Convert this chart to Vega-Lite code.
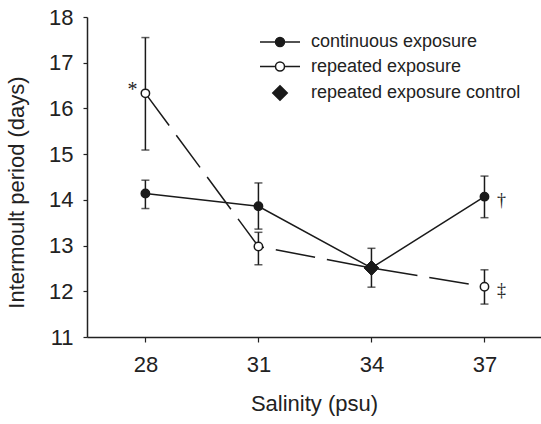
{
  "$schema": "https://vega.github.io/schema/vega-lite/v6.json",
  "width": 454,
  "height": 320,
  "autosize": "none",
  "padding": {"left": 87, "top": 17, "right": 0, "bottom": 87},
  "background": "white",
  "config": {
    "view": {"stroke": null},
    "font": "Liberation Sans",
    "axis": {"grid": false, "domainColor": "#222", "tickColor": "#222", "labelColor": "#222", "titleColor": "#222", "labelFont": "Liberation Sans", "titleFont": "Liberation Sans", "labelFontSize": 22, "titleFontSize": 22, "titleFontWeight": "normal", "domainWidth": 1.5, "tickWidth": 1.2}
  },
  "datasets": {
    "lines": [
      {"series": "continuous exposure", "salinity": 28, "mean": 14.14},
      {"series": "continuous exposure", "salinity": 31, "mean": 13.86},
      {"series": "continuous exposure", "salinity": 34, "mean": 12.51},
      {"series": "continuous exposure", "salinity": 37, "mean": 14.07},
      {"series": "repeated exposure", "salinity": 28, "mean": 16.33},
      {"series": "repeated exposure", "salinity": 31, "mean": 12.98},
      {"series": "repeated exposure", "salinity": 34, "mean": 12.51},
      {"series": "repeated exposure", "salinity": 37, "mean": 12.1}
    ],
    "points": [
      {"series": "continuous exposure", "salinity": 28, "mean": 14.14, "lo": 13.81, "hi": 14.43},
      {"series": "continuous exposure", "salinity": 31, "mean": 13.86, "lo": 13.36, "hi": 14.37},
      {"series": "continuous exposure", "salinity": 37, "mean": 14.07, "lo": 13.61, "hi": 14.52},
      {"series": "repeated exposure", "salinity": 28, "mean": 16.33, "lo": 15.09, "hi": 17.55},
      {"series": "repeated exposure", "salinity": 31, "mean": 12.98, "lo": 12.58, "hi": 13.29},
      {"series": "repeated exposure", "salinity": 37, "mean": 12.1, "lo": 11.72, "hi": 12.47},
      {"series": "repeated exposure control", "salinity": 34, "mean": 12.51, "lo": 12.09, "hi": 12.94}
    ],
    "notes": [
      {"salinity": 28, "mean": 16.33, "note": "*", "side": "left"},
      {"salinity": 37, "mean": 14.07, "note": "†", "side": "right"},
      {"salinity": 37, "mean": 12.1, "note": "‡", "side": "right"}
    ]
  },
  "encoding": {
    "x": {"field": "salinity", "type": "quantitative", "scale": {"domain": [26.45, 38.5], "nice": false, "zero": false},
      "axis": {"values": [28, 31, 34, 37], "title": "Salinity (psu)", "tickSize": 5, "labelPadding": 12, "titlePadding": 18}},
    "y": {"field": "mean", "type": "quantitative", "scale": {"domain": [11, 18], "nice": false, "zero": false},
      "axis": {"values": [11, 12, 13, 14, 15, 16, 17, 18], "title": "Intermoult period (days)", "tickSize": 4, "labelPadding": 10, "titlePadding": 20, "titleY": 175}}
  },
  "layer": [
    {"mark": "rule", "encoding": {"y": {"datum": 18}, "x": {"datum": 26.45}, "x2": {"datum": 38.5}, "color": {"value": "#333"}, "strokeWidth": {"value": 1.5}}},
    {"data": {"name": "lines"}, "transform": [{"filter": "datum.series === 'continuous exposure'"}],
      "mark": {"type": "line", "color": "#1a1a1a", "strokeWidth": 1.5}},
    {"data": {"name": "lines"}, "transform": [{"filter": "datum.series === 'repeated exposure'"}],
      "mark": {"type": "line", "color": "#1a1a1a", "strokeWidth": 1.5, "strokeDash": [40, 12]}},
    {"data": {"name": "points"}, "mark": {"type": "rule", "color": "#1a1a1a", "strokeWidth": 1.5},
      "encoding": {"y": {"field": "lo"}, "y2": {"field": "hi"}}},
    {"data": {"name": "points"}, "mark": {"type": "tick", "orient": "horizontal", "size": 8, "thickness": 1.5, "color": "#1a1a1a"},
      "encoding": {"y": {"field": "lo", "type": "quantitative"}}},
    {"data": {"name": "points"}, "mark": {"type": "tick", "orient": "horizontal", "size": 8, "thickness": 1.5, "color": "#1a1a1a"},
      "encoding": {"y": {"field": "hi", "type": "quantitative"}}},
    {"data": {"name": "points"},
      "transform": [{"filter": "datum.series !== 'repeated exposure control'"}],
      "mark": {"type": "point", "shape": "circle", "size": 70, "stroke": "#1a1a1a", "strokeWidth": 1.5, "opacity": 1},
      "encoding": {
        "fill": {"field": "series", "type": "nominal",
          "scale": {"domain": ["continuous exposure", "repeated exposure", "repeated exposure control"], "range": ["#1a1a1a", "white", "#1a1a1a"]}}
      }},
    {"data": {"name": "points"},
      "transform": [{"filter": "datum.series === 'repeated exposure control'"}],
      "mark": {"type": "point", "shape": "diamond", "size": 220, "stroke": "#1a1a1a", "strokeWidth": 1, "opacity": 1},
      "encoding": {
        "fill": {"field": "series", "type": "nominal"}
      }},
    {"data": {"name": "points"},
      "transform": [{"filter": "false"}],
      "mark": {"type": "point", "stroke": "#1a1a1a", "strokeWidth": 1.5, "opacity": 1},
      "encoding": {
        "shape": {"field": "series", "type": "nominal",
          "scale": {"domain": ["continuous exposure", "repeated exposure", "repeated exposure control"],
            "range": ["M-4,0H4M0.9,0A0.9,0.9 0 1 1 -0.9,0A0.9,0.9 0 1 1 0.9,0Z", "M-4,0H-0.9M0.9,0H4M0.9,0A0.9,0.9 0 1 1 -0.9,0A0.9,0.9 0 1 1 0.9,0Z", "M0,-1.45L1.45,0L0,1.45L-1.45,0Z"]},
          "legend": {"title": null, "orient": "none", "legendX": 184, "legendY": 16, "padding": 0, "symbolSize": 100, "labelFontSize": 18, "labelFont": "Liberation Sans", "labelColor": "#222", "labelLimit": 400, "labelOffset": 22, "rowPadding": 6.5, "symbolStrokeColor": "#1a1a1a", "symbolStrokeWidth": 1.5, "symbolOpacity": 1}},
        "fill": {"field": "series", "type": "nominal"}
      }},
    {"data": {"name": "notes"}, "transform": [{"filter": "datum.side === 'left'"}],
      "mark": {"type": "text", "dx": -13, "dy": -3, "fontSize": 20, "font": "Liberation Serif", "color": "#222"},
      "encoding": {"text": {"field": "note"}}},
    {"data": {"name": "notes"}, "transform": [{"filter": "datum.side === 'right'"}],
      "mark": {"type": "text", "dx": 17, "dy": 4, "fontSize": 18, "font": "Liberation Serif", "color": "#222"},
      "encoding": {"text": {"field": "note"}}}
  ]
}
